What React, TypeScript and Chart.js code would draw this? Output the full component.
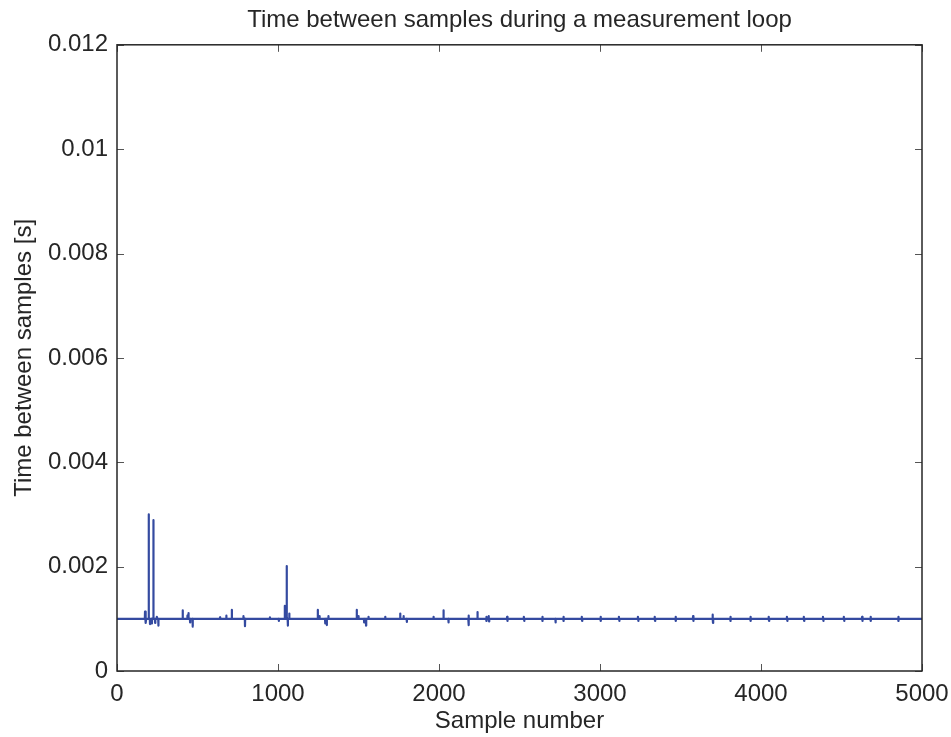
import { useEffect, useRef } from "react";
import { Chart, registerables } from "chart.js";

Chart.register(...registerables);

const chartTitle = "Time between samples during a measurement loop";
const xLabel = "Sample number";
const yLabel = "Time between samples [s]";

const xTicks = [0, 1000, 2000, 3000, 4000, 5000];
const xTickLabels = ["0", "1000", "2000", "3000", "4000", "5000"];
const yTicks = [0, 0.002, 0.004, 0.006, 0.008, 0.01, 0.012];
const yTickLabels = ["0", "0.002", "0.004", "0.006", "0.008", "0.01", "0.012"];

const firstSample = 1;
const lastSample = 5000;
const baseline = 0.001;

// Samples where the interval departs from the nominal 1 ms
const eventSamples = [
  174, 180, 197, 205, 217, 226, 237, 247, 257,
  408, 437, 444, 454, 470, 640, 679, 713, 785, 795, 950, 1005,
  1042, 1054, 1061, 1070,
  1247, 1258, 1293, 1303, 1313,
  1489, 1500, 1535, 1547, 1562, 1666,
  1759, 1780, 1800, 1966, 2028, 2059, 2183, 2185, 2239,
  2293, 2296, 2308, 2311, 2423, 2426, 2527, 2530, 2641, 2644,
  2724, 2772, 2775, 2886, 2889, 3003, 3006, 3117, 3120,
  3235, 3238, 3339, 3342, 3469, 3472, 3578, 3581,
  3699, 3702, 3809, 3812, 3934, 3937, 4047, 4050, 4161, 4164,
  4265, 4268, 4385, 4388, 4514, 4517, 4628, 4631, 4680, 4683,
  4852, 4855,
];
const eventValues = [
  0.00114, 0.00092, 0.003, 0.0009, 0.00091, 0.00289, 0.00092, 0.00104, 0.00087,
  0.00116, 0.00106, 0.00111, 0.00093, 0.00085, 0.00103, 0.00106, 0.00117, 0.00105, 0.00086, 0.00103, 0.00096,
  0.00125, 0.00201, 0.00087, 0.0011,
  0.00117, 0.00105, 0.00091, 0.00088, 0.00105,
  0.00117, 0.00105, 0.00093, 0.00087, 0.00104, 0.00104,
  0.0011, 0.00105, 0.00094, 0.00104, 0.00116, 0.00093, 0.00106, 0.00088, 0.00113,
  0.00104, 0.00096, 0.00105, 0.00095, 0.00104, 0.00096, 0.00104, 0.00096, 0.00104, 0.00096,
  0.00093, 0.00104, 0.00096, 0.00104, 0.00096, 0.00104, 0.00096, 0.00104, 0.00096,
  0.00104, 0.00096, 0.00104, 0.00096, 0.00104, 0.00096, 0.00105, 0.00096,
  0.00108, 0.00092, 0.00104, 0.00096, 0.00104, 0.00096, 0.00104, 0.00096, 0.00104, 0.00096,
  0.00104, 0.00096, 0.00104, 0.00096, 0.00104, 0.00096, 0.00104, 0.00096, 0.00104, 0.00096,
  0.00104, 0.00096,
];

const FONT = "'Liberation Sans', Arial, Helvetica, sans-serif";
const TEXT = "#262626";
const LINE = "rgb(52, 74, 160)";

function buildPoints() {
  const m = new Map<number, number>();
  m.set(firstSample, baseline);
  m.set(lastSample, baseline);
  eventSamples.forEach((s, i) => m.set(s, eventValues[i]));
  eventSamples.forEach((s) => {
    if (!m.has(s - 1)) m.set(s - 1, baseline);
    if (!m.has(s + 1)) m.set(s + 1, baseline);
  });
  return [...m.entries()].sort((a, b) => a[0] - b[0]).map(([x, y]) => ({ x, y }));
}

const framePlugin = {
  id: "matlabFrame",
  afterDraw(chart: any) {
    const { ctx, chartArea: a, scales } = chart;
    const tl = 7;
    ctx.save();
    ctx.strokeStyle = "#555555";
    ctx.lineWidth = 1;
    ctx.beginPath();
    xTicks.forEach((v) => {
      const px = Math.round(scales.x.getPixelForValue(v)) + 0.5;
      ctx.moveTo(px, a.bottom);
      ctx.lineTo(px, a.bottom - tl);
      ctx.moveTo(px, a.top);
      ctx.lineTo(px, a.top + tl);
    });
    yTicks.forEach((v) => {
      const py = Math.round(scales.y.getPixelForValue(v)) + 0.5;
      ctx.moveTo(a.left, py);
      ctx.lineTo(a.left + tl, py);
      ctx.moveTo(a.right, py);
      ctx.lineTo(a.right - tl, py);
    });
    ctx.stroke();
    ctx.strokeStyle = TEXT;
    ctx.lineWidth = 1.5;
    ctx.strokeRect(a.left, a.top, a.right - a.left, a.bottom - a.top);
    ctx.restore();
  },
};

export default function App() {
  const ref = useRef<HTMLCanvasElement | null>(null);
  useEffect(() => {
    document.body.style.margin = "0";
    const canvas = ref.current;
    if (!canvas) return;
    const chart = new Chart(canvas, {
      type: "line",
      data: {
        datasets: [
          {
            data: buildPoints(),
            borderColor: LINE,
            borderWidth: 2.2,
            borderJoinStyle: "round",
            borderCapStyle: "round",
            pointRadius: 0,
            tension: 0,
            fill: false,
          },
        ],
      },
      options: {
        responsive: false,
        animation: false,
        devicePixelRatio: 1,
        layout: { padding: { left: 0, right: 29, top: 0, bottom: 0 } },
        plugins: {
          legend: { display: false },
          tooltip: { enabled: false },
          title: {
            display: true,
            text: chartTitle,
            fullSize: false,
            color: TEXT,
            font: { family: FONT, size: 24, weight: "normal" },
            padding: { top: 6, bottom: 10 },
          },
        },
        scales: {
          x: {
            type: "linear",
            min: 0,
            max: 5000,
            afterBuildTicks: (s: any) => {
              s.ticks = xTicks.map((v) => ({ value: v }));
            },
            afterFit: (s: any) => {
              s.height = 66;
              s.paddingLeft = 0;
              s.paddingRight = 0;
            },
            grid: { display: false, drawTicks: false },
            border: { display: false },
            ticks: {
              color: TEXT,
              font: { family: FONT, size: 24 },
              padding: 9,
              maxRotation: 0,
              autoSkip: false,
              callback: (v: any) => xTickLabels[xTicks.indexOf(Number(v))] ?? "",
            },
            title: {
              display: true,
              text: xLabel,
              color: TEXT,
              font: { family: FONT, size: 24 },
              padding: { top: 0, bottom: 1 },
            },
          },
          y: {
            type: "linear",
            min: 0,
            max: 0.012,
            afterBuildTicks: (s: any) => {
              s.ticks = yTicks.map((v) => ({ value: v }));
            },
            afterFit: (s: any) => {
              s.width = 117;
              s.paddingTop = 0;
              s.paddingBottom = 0;
            },
            grid: { display: false, drawTicks: false },
            border: { display: false },
            ticks: {
              color: TEXT,
              font: { family: FONT, size: 24 },
              padding: 9,
              autoSkip: false,
              callback: (v: any) => {
                const i = yTicks.findIndex((t) => Math.abs(t - Number(v)) < 1e-9);
                return i >= 0 ? yTickLabels[i] : "";
              },
            },
            title: {
              display: true,
              text: yLabel,
              color: TEXT,
              font: { family: FONT, size: 24 },
              padding: { top: 10, bottom: 0 },
            },
          },
        },
      },
      plugins: [framePlugin],
    });
    return () => chart.destroy();
  }, []);
  return <canvas ref={ref} width={951} height={737} style={{ display: "block" }} />;
}
